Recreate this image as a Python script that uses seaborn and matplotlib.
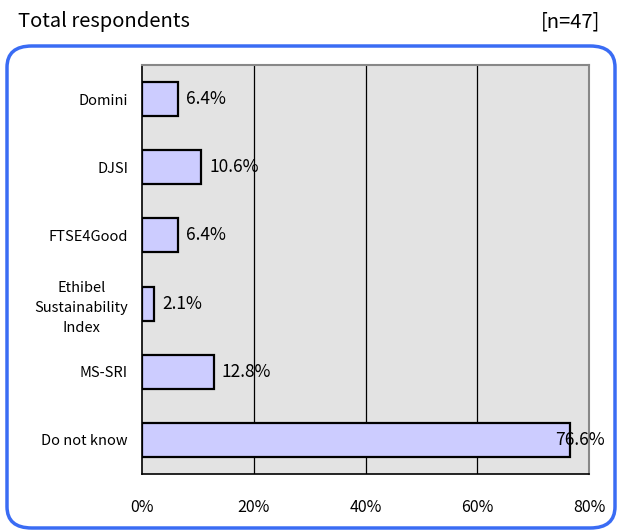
import matplotlib
matplotlib.use("Agg")
import matplotlib.pyplot as plt
from matplotlib.patches import FancyBboxPatch
import seaborn as sns
import pandas as pd
import numpy as np

# Données
categories = ["Domini", "DJSI", "FTSE4Good", "Ethibel\nSustainability\nIndex", "MS-SRI", "Do not know"]
valeurs = [6.4, 10.6, 6.4, 2.1, 12.8, 76.6]
xticks = [0, 20, 40, 60, 80]
titre = "Total respondents"
n_label = "[n=47]"

df = pd.DataFrame({"categorie": categories, "valeur": valeurs})

sns.set_style("white")
plt.rcParams["font.family"] = ["Noto Sans CJK JP", "DejaVu Sans"]
plt.rcParams["text.color"] = "black"
plt.rcParams["xtick.color"] = "black"
plt.rcParams["ytick.color"] = "black"

fig = plt.figure(figsize=(6.2, 5.32), dpi=100)
ax = fig.add_axes([142 / 620, 1 - 474 / 532, (589 - 142) / 620, (474 - 65) / 532])

sns.barplot(data=df, x="valeur", y="categorie", orient="h", color="#ccccff",
            edgecolor="black", linewidth=1.6, width=0.5, saturation=1, ax=ax, zorder=3)

ax.set_facecolor("#e3e3e3")
ax.set_xlim(0, 80)
ax.set_ylim(len(categories) - 0.5, -0.5)
ax.set_xticks(xticks)
ax.set_xticklabels([f"{t}%" for t in xticks], fontsize=11.5)
ax.tick_params(axis="x", length=0, pad=18)
ax.set_xlabel("")
ax.set_ylabel("")

# Ticks de catégories entre les barres
ax.set_yticks(range(len(categories)))
ax.set_yticklabels(categories, fontsize=10.5, ha="right", multialignment="center",
                   linespacing=1.55)
ax.tick_params(axis="y", length=0, pad=10)
ax.set_yticks(np.arange(0.5, len(categories) - 1, 1), minor=True)
ax.tick_params(axis="y", which="minor", direction="in", length=4, color="black")

for t in xticks[1:-1]:
    ax.axvline(t, color="black", linewidth=0.9, zorder=2)

for side in ["left", "bottom"]:
    ax.spines[side].set_color("black")
    ax.spines[side].set_linewidth(1.2)
for side in ["top", "right"]:
    ax.spines[side].set_color("#888888")
    ax.spines[side].set_linewidth(1.5)

# Étiquettes de valeurs
for i, v in enumerate(valeurs):
    dx = -11 if v > 70 else 6
    ax.annotate(f"{v:.1f}%", (v, i), xytext=(dx, 0), textcoords="offset points",
                ha="left", va="center", fontsize=12.5, zorder=5)

# Titre et cadre arrondi
fig.text(18 / 620, 1 - 22 / 532, titre, fontsize=14.5, ha="left", va="center")
fig.text(600 / 620, 1 - 22 / 532, n_label, fontsize=14.5, ha="right", va="center")

box = FancyBboxPatch((7 / 620, 1 - 528 / 532), 608 / 620, 482 / 532,
                     boxstyle="round,pad=0,rounding_size=0.04",
                     transform=fig.transFigure, facecolor="none",
                     edgecolor="#3a6cf4", linewidth=2.5, zorder=0)
fig.patches.append(box)

fig.savefig("out.png", dpi=100)
